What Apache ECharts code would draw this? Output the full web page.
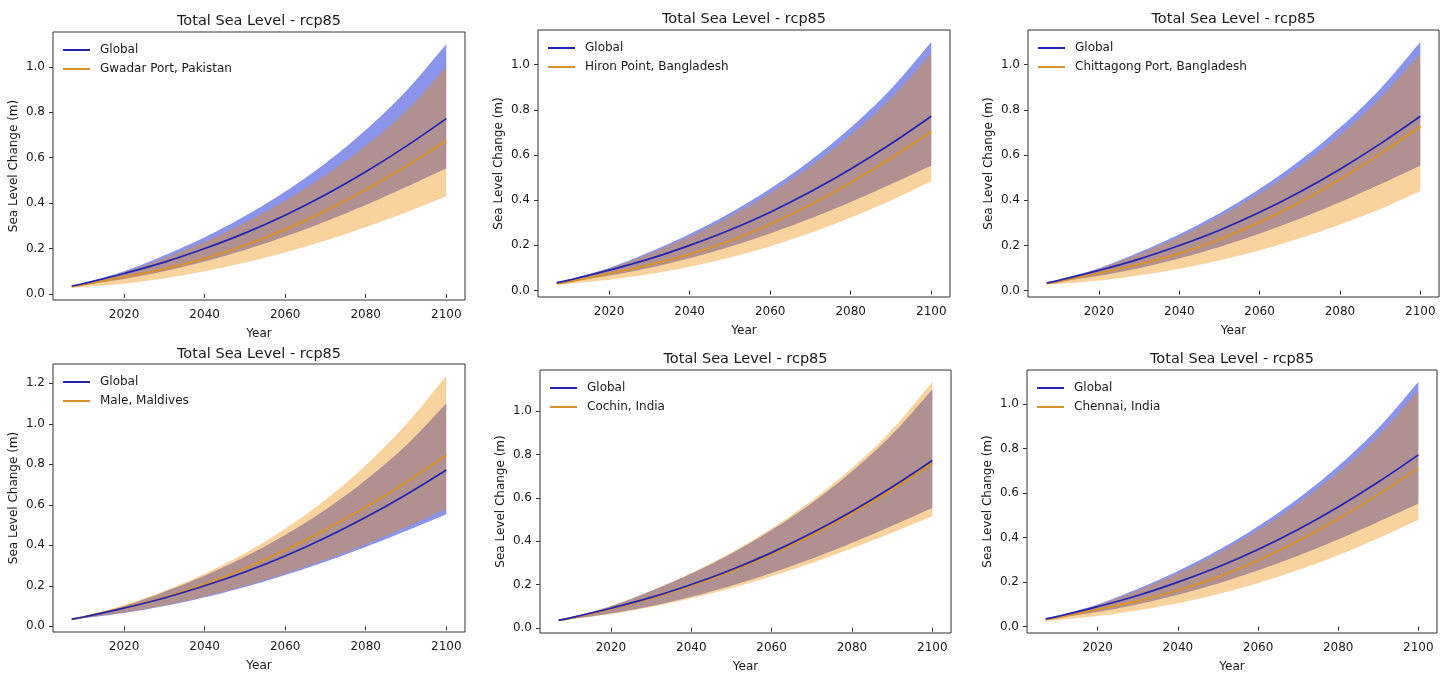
<!DOCTYPE html>
<html>
<head>
<meta charset="utf-8">
<title>Total Sea Level - rcp85</title>
<script src="https://cdn.jsdelivr.net/npm/echarts@6/dist/echarts.min.js"></script>
<style>
  html, body { margin: 0; padding: 0; background: #fff; }
  #main { width: 1453px; height: 674px; }
</style>
</head>
<body>
<div id="main"></div>
<script>
// years sampled along the curves
const years = [2007, 2010, 2020, 2030, 2040, 2050, 2060, 2070, 2080, 2090, 2100];

// global projection (same in every panel)
const globalMid  = [0.035, 0.046, 0.090, 0.140, 0.200, 0.268, 0.347, 0.437, 0.538, 0.650, 0.772];
const globalLow  = [0.032, 0.040, 0.066, 0.100, 0.143, 0.194, 0.253, 0.319, 0.392, 0.471, 0.553];
const globalHigh = [0.035, 0.048, 0.100, 0.170, 0.250, 0.343, 0.451, 0.576, 0.722, 0.893, 1.100];

// local projections
const gwadarMid  = [0.033, 0.042, 0.075, 0.110, 0.156, 0.214, 0.284, 0.366, 0.459, 0.562, 0.674];
const gwadarLow  = [0.027, 0.031, 0.045, 0.069, 0.100, 0.138, 0.183, 0.235, 0.294, 0.359, 0.430];
const gwadarHigh = [0.034, 0.046, 0.095, 0.158, 0.230, 0.314, 0.411, 0.523, 0.653, 0.806, 1.000];

const hironMid  = [0.030, 0.039, 0.075, 0.113, 0.160, 0.220, 0.294, 0.380, 0.478, 0.586, 0.704];
const hironLow  = [0.025, 0.030, 0.048, 0.073, 0.105, 0.146, 0.196, 0.255, 0.323, 0.399, 0.484];
const hironHigh = [0.034, 0.047, 0.097, 0.163, 0.239, 0.328, 0.431, 0.550, 0.689, 0.852, 1.050];

const chittagongMid  = [0.032, 0.041, 0.078, 0.117, 0.165, 0.227, 0.303, 0.392, 0.493, 0.605, 0.727];
const chittagongLow  = [0.026, 0.030, 0.045, 0.068, 0.097, 0.134, 0.179, 0.232, 0.293, 0.361, 0.441];
const chittagongHigh = [0.034, 0.047, 0.097, 0.163, 0.239, 0.328, 0.431, 0.550, 0.689, 0.852, 1.050];

const maleMid  = [0.035, 0.046, 0.092, 0.143, 0.208, 0.286, 0.376, 0.477, 0.589, 0.711, 0.845];
const maleLow  = [0.033, 0.042, 0.068, 0.103, 0.147, 0.200, 0.261, 0.329, 0.405, 0.489, 0.580];
const maleHigh = [0.036, 0.050, 0.105, 0.175, 0.260, 0.361, 0.482, 0.625, 0.795, 0.997, 1.235];

const cochinMid  = [0.034, 0.045, 0.087, 0.136, 0.195, 0.262, 0.340, 0.428, 0.528, 0.638, 0.760];
const cochinLow  = [0.031, 0.039, 0.064, 0.096, 0.136, 0.183, 0.238, 0.299, 0.367, 0.439, 0.515];
const cochinHigh = [0.035, 0.048, 0.100, 0.171, 0.253, 0.348, 0.459, 0.588, 0.738, 0.915, 1.135];

const chennaiMid  = [0.032, 0.041, 0.077, 0.115, 0.163, 0.223, 0.298, 0.385, 0.484, 0.594, 0.712];
const chennaiLow  = [0.025, 0.030, 0.048, 0.073, 0.105, 0.146, 0.196, 0.254, 0.321, 0.397, 0.480];
const chennaiHigh = [0.034, 0.047, 0.097, 0.163, 0.240, 0.330, 0.434, 0.554, 0.694, 0.859, 1.060];

const locNames = ['Gwadar Port, Pakistan', 'Hiron Point, Bangladesh', 'Chittagong Port, Bangladesh',
                  'Male, Maldives', 'Cochin, India', 'Chennai, India'];
const xTicks = [2020, 2040, 2060, 2080, 2100];
const yTicks = [0, 0.2, 0.4, 0.6, 0.8, 1.0, 1.2];

const locals = [
  [gwadarMid, gwadarLow, gwadarHigh],
  [hironMid, hironLow, hironHigh],
  [chittagongMid, chittagongLow, chittagongHigh],
  [maleMid, maleLow, maleHigh],
  [cochinMid, cochinLow, cochinHigh],
  [chennaiMid, chennaiLow, chennaiHigh]
];

// plot frames [left, top, width, height] and title top
const frames = [
  [53, 32, 412, 268, 14],
  [538, 30, 412, 267, 12],
  [1028, 30, 411, 267, 12],
  [53, 364, 412, 268, 347],
  [540, 370, 411, 268, 352],
  [1027, 370, 410, 268, 352]
];

const FONT = 'DejaVu Sans';
const TXT = '#1a1a1a';
const BLUE_LINE = '#2323b4';
const ORANGE_LINE = '#d8922c';
const BLUE_BAND = 'rgba(30,50,215,0.52)';
const ORANGE_BAND = 'rgba(240,140,0,0.38)';

const pairs = (ys) => years.map((x, i) => [x, ys[i]]);

// smooth a pixel polyline (x increasing) with cubic Hermite segments
function smoothEdge(pts) {
  const n = pts.length, out = [];
  const m = pts.map((p, k) => {
    const a = pts[Math.max(k - 1, 0)], b = pts[Math.min(k + 1, n - 1)];
    return (b[1] - a[1]) / (b[0] - a[0]);
  });
  for (let k = 0; k < n - 1; k++) {
    const [x0, y0] = pts[k], [x1, y1] = pts[k + 1], h = x1 - x0;
    for (let s = 0; s < 10; s++) {
      const t = s / 10, t2 = t * t, t3 = t2 * t;
      const y = (2 * t3 - 3 * t2 + 1) * y0 + (t3 - 2 * t2 + t) * h * m[k]
              + (-2 * t3 + 3 * t2) * y1 + (t3 - t2) * h * m[k + 1];
      out.push([x0 + t * h, y]);
    }
  }
  out.push(pts[n - 1]);
  return out;
}

// band between low and high, drawn through the axis scales
function bandSeries(i, low, high, color, z) {
  return {
    type: 'custom', xAxisIndex: i, yAxisIndex: i, z: z, silent: true,
    data: years.map((x, k) => [x, low[k], high[k]]),
    encode: { x: 0, y: [1, 2] },
    renderItem: (params, api) => {
      if (params.dataIndexInside !== 0) return null;
      const top = smoothEdge(years.map((x, k) => api.coord([x, high[k]])));
      const bot = smoothEdge(years.map((x, k) => api.coord([x, low[k]])));
      return { type: 'polygon', shape: { points: top.concat(bot.reverse()) }, style: { fill: color } };
    }
  };
}

const xMin = years[0] - 0.05 * (years[years.length - 1] - years[0]);
const xMax = years[years.length - 1] + 0.05 * (years[years.length - 1] - years[0]);

const grid = [], xAxis = [], yAxis = [], title = [], legend = [], series = [];

frames.forEach((f, i) => {
  const [mid, low, high] = locals[i];
  const dMin = Math.min(...globalLow, ...low, ...mid);
  const dMax = Math.max(...globalHigh, ...high);
  const pad = 0.05 * (dMax - dMin);
  const yMin = dMin - pad, yMax = dMax + pad;
  const yt = yTicks.filter(v => v >= yMin && v <= yMax);

  grid.push({ left: f[0], top: f[1], width: f[2], height: f[3], show: true,
              borderColor: '#333', borderWidth: 1 });
  title.push({ text: 'Total Sea Level - rcp85', left: f[0] + f[2] / 2, top: f[4], textAlign: 'center', padding: 0,
               textStyle: { fontFamily: FONT, fontSize: 14.5, fontWeight: 'normal', color: TXT } });
  legend.push({ left: f[0] + 10, top: f[1] + 12, padding: 0, orient: 'vertical', icon: 'rect',
                itemWidth: 27, itemHeight: 2, itemGap: 7,
                selectedMode: false, data: ['Global', locNames[i]],
                textStyle: { fontFamily: FONT, fontSize: 12, color: TXT, padding: [0, 0, 0, 5] } });
  xAxis.push({ type: 'value', gridIndex: i, min: xMin, max: xMax, name: 'Year', nameLocation: 'middle', nameGap: 28,
               nameTextStyle: { fontFamily: FONT, fontSize: 12, color: TXT },
               axisLine: { show: false }, splitLine: { show: false },
               axisTick: { show: true, length: 4, customValues: xTicks, lineStyle: { color: '#333' } },
               axisLabel: { customValues: xTicks, margin: 9, fontFamily: FONT, fontSize: 12, color: TXT,
                            formatter: v => String(v) } });
  yAxis.push({ type: 'value', gridIndex: i, min: yMin, max: yMax, name: 'Sea Level Change (m)', nameLocation: 'middle',
               nameGap: 33, nameTextStyle: { fontFamily: FONT, fontSize: 12, color: TXT },
               axisLine: { show: false }, splitLine: { show: false },
               axisTick: { show: true, length: 4, customValues: yt, lineStyle: { color: '#333' } },
               axisLabel: { customValues: yt, margin: 8, fontFamily: FONT, fontSize: 12, color: TXT,
                            formatter: v => v.toFixed(1) } });

  series.push(bandSeries(i, globalLow, globalHigh, BLUE_BAND, 3));
  series.push(bandSeries(i, low, high, ORANGE_BAND, 4));

  const base = { type: 'line', xAxisIndex: i, yAxisIndex: i, smooth: 0.4, symbol: 'none', showSymbol: false };
  series.push(Object.assign({}, base, { name: 'Global', z: 6, data: pairs(globalMid), color: BLUE_LINE,
                lineStyle: { width: 1.7, color: BLUE_LINE } }));
  series.push(Object.assign({}, base, { name: locNames[i], z: 5, data: pairs(mid), color: ORANGE_LINE,
                lineStyle: { width: 2, color: ORANGE_LINE } }));
});

const chart = echarts.init(document.getElementById('main'));
chart.setOption({ animation: false, backgroundColor: '#fff', title, legend, grid, xAxis, yAxis, series });
</script>
</body>
</html>
